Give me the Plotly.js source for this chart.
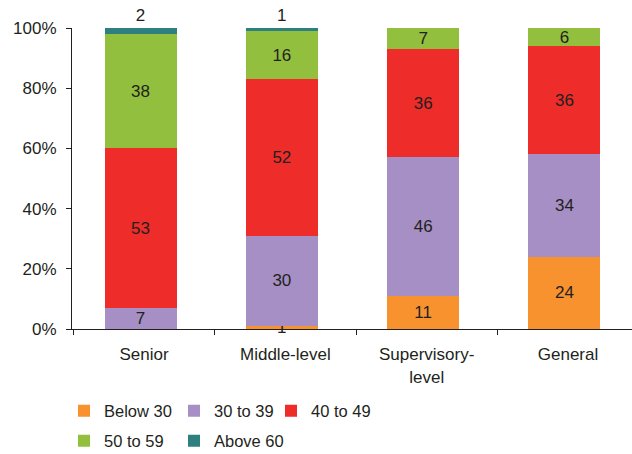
<!DOCTYPE html>
<html>
<head>
<meta charset="utf-8">
<script src="https://cdn.plot.ly/plotly-3.0.1.min.js"></script>
<style>body{margin:0;padding:0;background:#fff;}#chart{width:632px;height:454px;}</style>
</head>
<body>
<div id="chart"></div>
<script>
const categories = ["Senior", "Middle-level", "Supervisory-<br>level", "General"];
const below30 = [0, 1, 11, 24];
const age30to39 = [7, 30, 46, 34];
const age40to49 = [53, 52, 36, 36];
const age50to59 = [38, 16, 7, 6];
const above60 = [2, 1, 0, 0];
const seriesNames = ["Below 30", "30 to 39", "40 to 49", "50 to 59", "Above 60"];
const seriesColors = ["#F7922F", "#A68FC4", "#EE2D2A", "#92C03E", "#2E7F80"];

const textColor = "#231F20";
const fontFam = "Liberation Sans, Arial, sans-serif";
const legendIds = ["legend", "legend2", "legend3", "legend4", "legend5"];

function mk(vals, i, pos) {
  return {
    type: "bar",
    name: seriesNames[i],
    x: categories,
    y: vals,
    width: 0.51,
    offset: -0.28,
    marker: {color: seriesColors[i], line: {width: 0}},
    text: vals.map(v => v === 0 ? "" : String(v)),
    textposition: pos,
    textangle: 0,
    insidetextanchor: "middle",
    constraintext: "none",
    cliponaxis: false,
    textfont: {family: fontFam, size: 17, color: textColor},
    insidetextfont: {family: fontFam, size: 17, color: textColor},
    outsidetextfont: {family: fontFam, size: 17, color: textColor},
    hoverinfo: "skip",
    legend: legendIds[i]
  };
}

const data = [
  mk(below30, 0, "inside"),
  mk(age30to39, 1, "inside"),
  mk(age40to49, 2, "inside"),
  mk(age50to59, 3, "inside"),
  mk(above60, 4, "outside")
];

function leg(xpx, ypx) {
  return {
    orientation: "h",
    xref: "container", yref: "container",
    x: xpx / 632, y: 1 - ypx / 454,
    xanchor: "left", yanchor: "middle",
    font: {family: fontFam, size: 16.5, color: textColor},
    bgcolor: "rgba(0,0,0,0)",
    itemclick: false
  };
}

const layout = {
  width: 632, height: 454,
  margin: {l: 72, r: 0, t: 28, b: 125, pad: 0},
  paper_bgcolor: "#fff", plot_bgcolor: "#fff",
  barmode: "stack",
  font: {family: fontFam, size: 17, color: textColor},
  xaxis: {
    type: "category",
    range: [-0.51, 3.453],
    showline: true, linecolor: "#231F20", linewidth: 1,
    ticks: "outside", ticklen: 5, tickcolor: "#231F20", tickson: "boundaries",
    tickfont: {family: fontFam, size: 17, color: textColor},
    tickangle: 0, ticklabelstandoff: 10,
    showgrid: false, zeroline: false, fixedrange: true
  },
  yaxis: {
    range: [0, 100],
    dtick: 20, ticksuffix: "%",
    showline: true, linecolor: "#231F20", linewidth: 1,
    ticks: "outside", ticklen: 5, tickcolor: "#231F20",
    tickfont: {family: fontFam, size: 17, color: textColor},
    ticklabelstandoff: 6,
    showgrid: false, zeroline: false, fixedrange: true
  },
  legend: leg(64, 411),
  legend2: leg(174, 411),
  legend3: leg(271, 411),
  legend4: leg(64, 441),
  legend5: leg(174, 441),
  showlegend: true
};

Plotly.newPlot("chart", data, layout, {displayModeBar: false, staticPlot: true});
</script>
</body>
</html>
